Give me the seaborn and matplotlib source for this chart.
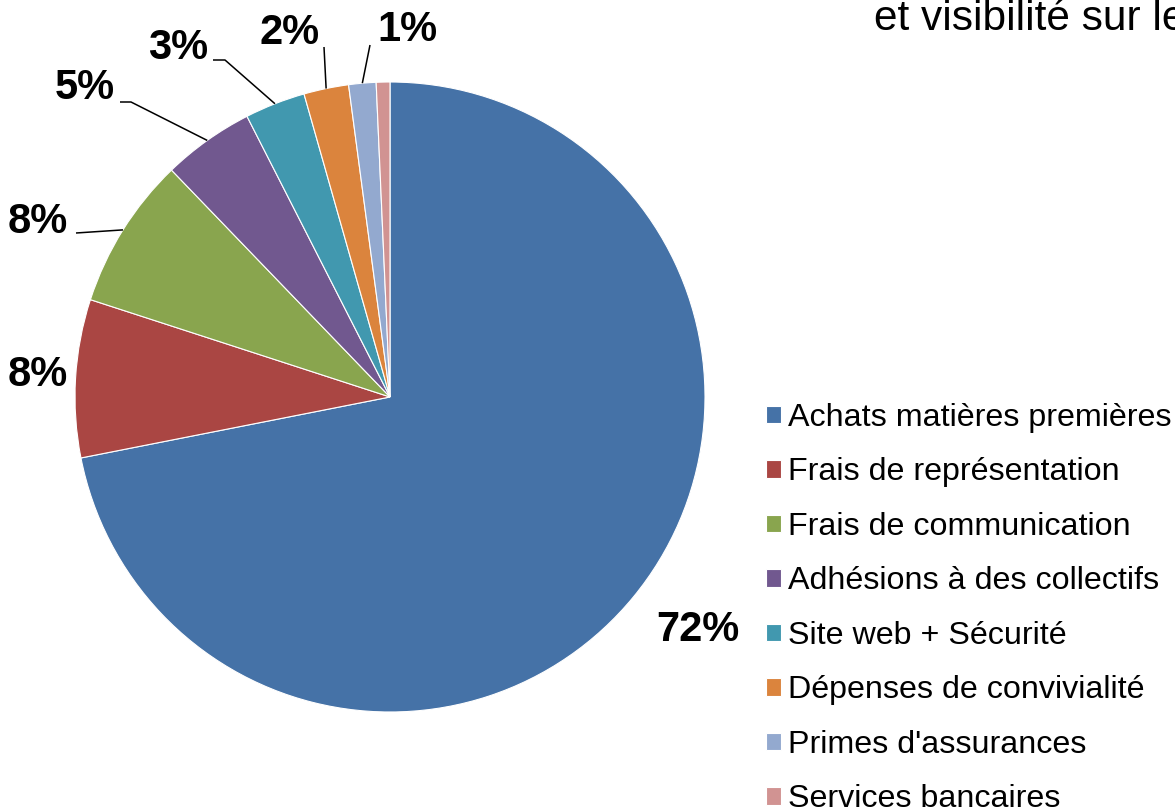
import matplotlib
matplotlib.use("Agg")
import numpy as np
import matplotlib.pyplot as plt
import seaborn as sns

# data
categories = ["Achats matières premières", "Frais de représentation",
              "Frais de communication", "Adhésions à des collectifs",
              "Site web + Sécurité", "Dépenses de convivialité",
              "Primes d'assurances", "Services bancaires"]
shares = [71.9, 8.1, 7.8, 4.7, 3.1, 2.3, 1.4, 0.7]
show_label = [True, True, True, True, True, True, True, False]
colors = ["#4572A7", "#AA4643", "#89A54E", "#71588F",
          "#4198AF", "#DB843D", "#93A9CF", "#D19392"]
title_text = "et visibilité sur le"

# layout (image pixels, y down)
W, H = 1175, 808
label_xy = [(698, 630), (38, 375), (38, 222), (85, 88),
            (178, 48), (290, 33), (407, 30), None]
leader_from = [None, None, (76, 233), (120, 102), (213, 60),
               (324, 47), (370, 45), None]
leader_elbow = [0, 0, 0, 11, 12, 0, 0, 0]

sns.set_theme(style="white")
plt.rcParams["font.family"] = ["Liberation Sans", "DejaVu Sans"]

fig = plt.figure(figsize=(W / 100, H / 100), dpi=100)
ax = fig.add_axes([0, 0, 1, 1])

cx, cy, R = 390, H - 397, 315
wedges, _ = ax.pie(shares, colors=colors, startangle=90, counterclock=False,
                   center=(cx, cy), radius=R, frame=True,
                   wedgeprops=dict(edgecolor="white", linewidth=0.8))
ax.set_xlim(0, W)
ax.set_ylim(0, H)
ax.set_aspect("equal")
ax.axis("off")

for i, w in enumerate(wedges):
    if not show_label[i]:
        continue
    lx, ly = label_xy[i]
    ax.text(lx, H - ly, f"{shares[i]:.0f}%", fontsize=30, fontweight="bold",
            ha="center", va="center", color="black")
    if leader_from[i] is not None:
        mid = np.deg2rad((w.theta1 + w.theta2) / 2)
        ax_, ay_ = cx + R * np.cos(mid), cy + R * np.sin(mid)
        sx, sy = leader_from[i]
        xs, ys = [sx], [H - sy]
        if leader_elbow[i]:
            xs.append(sx + leader_elbow[i]); ys.append(H - sy)
        xs.append(ax_); ys.append(ay_)
        ax.plot(xs, ys, color="black", lw=1.1, solid_capstyle="butt")

fig.text(874 / W, 1 - 30 / H, title_text, fontsize=30.5, ha="left",
         va="baseline", color="black")

fig.legend(handles=wedges, labels=categories, loc="upper left",
           bbox_to_anchor=(766 / W, 1 - 403 / H), frameon=False,
           fontsize=23.2, labelcolor="black", handlelength=0.47,
           handleheight=0.47, handletextpad=0.22, labelspacing=0.76,
           borderaxespad=0, borderpad=0)

fig.savefig("out.png", dpi=100, facecolor="white")
